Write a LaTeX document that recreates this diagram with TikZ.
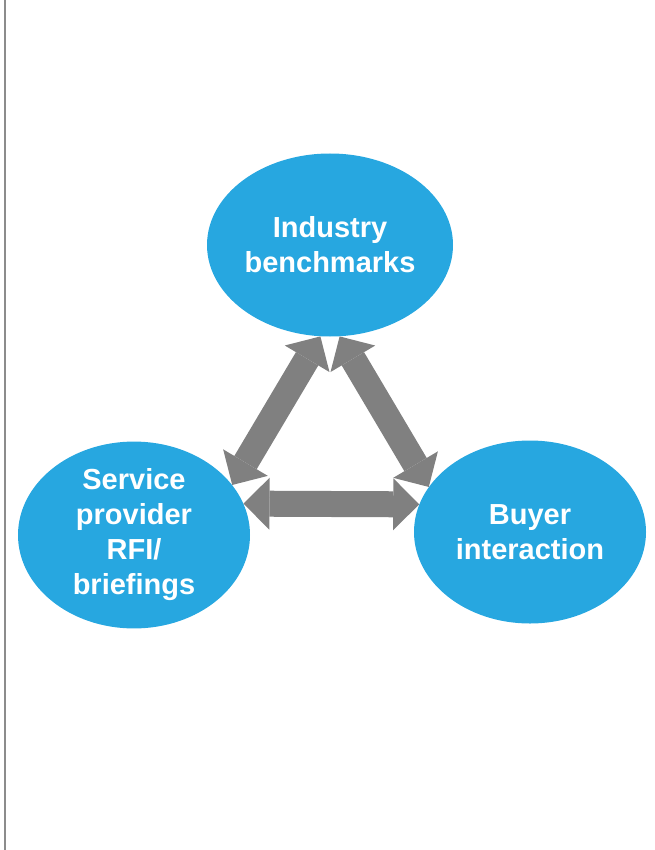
\documentclass[tikz,border=0pt]{standalone}
\usepackage{fontspec}
\setmainfont{Liberation Sans}
\usetikzlibrary{shapes.geometric,arrows.meta}
\definecolor{bubbleblue}{RGB}{39,167,224}
\definecolor{linkgray}{RGB}{128,128,128}

\begin{document}
\begin{tikzpicture}[x=1pt,y=-1pt,
    bubble/.style={ellipse, fill=bubbleblue, text=white, inner sep=0pt, align=center,
        font=\bfseries\fontsize{29}{35}\selectfont},
    link/.style={linkgray, line width=26pt,
        {Triangle[length=26pt,width=52pt,line width=0pt]}-{Triangle[length=26pt,width=52pt,line width=0pt]}}]
    \useasboundingbox (0,0) rectangle (654,850);
    \draw[black!45, line width=2pt] (5,0) -- (5,850);

    \node[bubble, minimum width=246pt, minimum height=183pt] (bench)    at (330,245) {Industry\\benchmarks};
    \node[bubble, minimum width=232pt, minimum height=183pt] (provider) at (134,535) {Service\\provider\\RFI/\\briefings};
    \node[bubble, minimum width=232pt, minimum height=183pt] (buyer)    at (530,532) {Buyer\\interaction};

    \draw[link] (provider.27) -- (bench.264);
    \draw[link] (bench.276) -- (buyer.156);
    \draw[link] (provider.16) -- (buyer.166);
\end{tikzpicture}
\end{document}
